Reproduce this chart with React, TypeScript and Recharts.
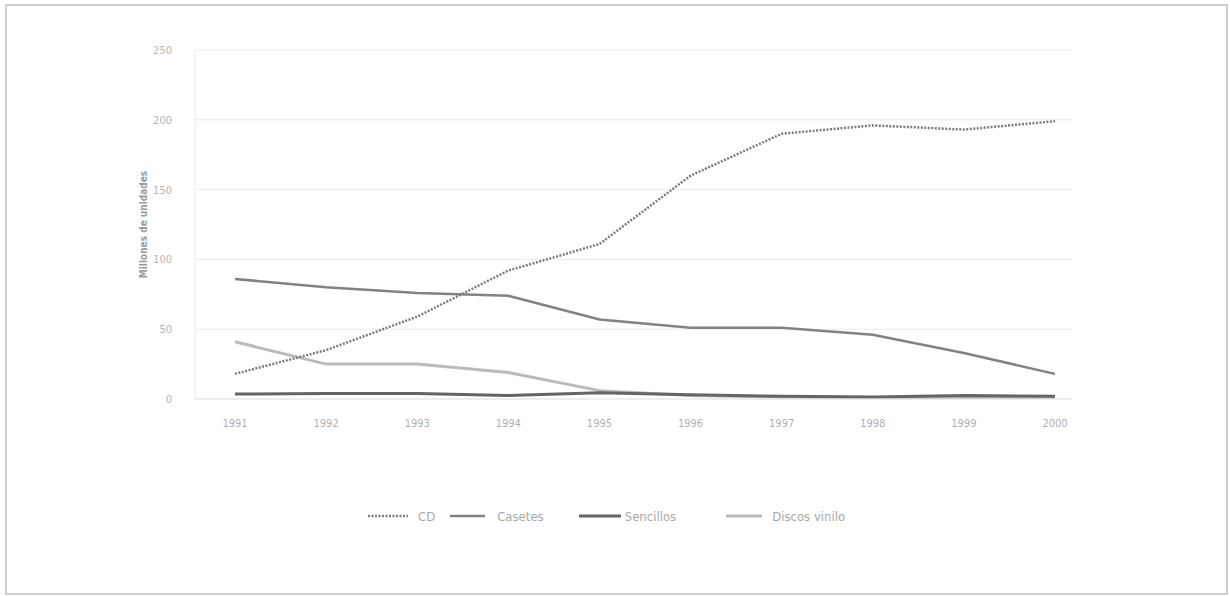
import React from 'react';
import { LineChart, Line, XAxis, YAxis, CartesianGrid } from 'recharts';

const years = ['1991', '1992', '1993', '1994', '1995', '1996', '1997', '1998', '1999', '2000'];
const cd = [18, 35, 59, 92, 111, 160, 190, 196, 193, 199];
const cassettes = [86, 80, 76, 74, 57, 51, 51, 46, 33, 18];
const sencillos = [3.5, 4, 4, 2.5, 4.5, 3, 2, 1.5, 2.5, 2];
const vinilo = [41, 25, 25, 19, 6, 2.5, 1.5, 1, 1, 1];
const yTicks = [0, 50, 100, 150, 200, 250];
const seriesNames = ['CD', 'Casetes', 'Sencillos', 'Discos vinilo'];

const data = years.map((y, i) => ({
  year: y,
  cd: cd[i],
  cassettes: cassettes[i],
  sencillos: sencillos[i],
  vinilo: vinilo[i],
}));

const FONT = "'Liberation Sans Narrow', 'DejaVu Sans Condensed', 'Liberation Sans', sans-serif";

const legendStyles = [
  { color: '#7c7c7c', dash: '2 1.5', width: 2.5, lineW: 40, gap: 10, after: 15 },
  { color: '#828282', dash: undefined, width: 2.5, lineW: 35, gap: 12, after: 35 },
  { color: '#656565', dash: undefined, width: 3, lineW: 42, gap: 4, after: 50 },
  { color: '#bababa', dash: undefined, width: 3, lineW: 36, gap: 10, after: 0 },
];

export default function App() {
  return (
    <div style={{ position: 'absolute', left: 0, top: 0, width: 1230, height: 596, background: '#fff', fontFamily: FONT }}>
      <div style={{ position: 'absolute', left: 5, top: 4, width: 1219, height: 587, border: '2px solid #cfcfcf' }} />
      <div style={{ position: 'absolute', left: 0, top: 0 }}>
        <LineChart width={1230} height={596} data={data} margin={{ top: 50, right: 158, bottom: 167, left: 0 }}>
          <CartesianGrid vertical={false} stroke="#ececec" />
          <XAxis
            dataKey="year"
            padding={{ left: 40, right: 17 }}
            axisLine={{ stroke: '#e6e6e6' }}
            tickLine={false}
            tickMargin={14}
            height={30}
            tick={{ fill: '#b0b0b0', fontSize: 11, fontFamily: FONT }}
          />
          <YAxis
            domain={[0, 250]}
            ticks={yTicks}
            width={195}
            axisLine={{ stroke: '#ececec' }}
            tickLine={false}
            tickMargin={17}
            tick={{ fill: '#b5b5b5', fontSize: 11, fontFamily: FONT }}
            label={{ value: 'Millones de unidades', angle: -90, position: 'center', dx: 46, fill: '#9a9a9a', fontSize: 10, fontWeight: 'bold', fontFamily: FONT }}
          />
          <Line dataKey="vinilo" stroke="#bababa" strokeWidth={3} dot={false} isAnimationActive={false} />
          <Line dataKey="sencillos" stroke="#656565" strokeWidth={3} dot={false} isAnimationActive={false} />
          <Line dataKey="cassettes" stroke="#828282" strokeWidth={2.5} dot={false} isAnimationActive={false} />
          <Line dataKey="cd" stroke="#7c7c7c" strokeWidth={2.5} strokeDasharray="2 1.5" dot={false} isAnimationActive={false} />
        </LineChart>
      </div>
      <div style={{ position: 'absolute', left: 368, top: 506, height: 20, display: 'flex', alignItems: 'center' }}>
        {seriesNames.map((name, i) => {
          const s = legendStyles[i];
          return (
            <div key={name} style={{ display: 'flex', alignItems: 'center', marginRight: s.after }}>
              <svg width={s.lineW} height={6} style={{ marginRight: s.gap }}>
                <line x1={0} y1={3} x2={s.lineW} y2={3} stroke={s.color} strokeWidth={s.width} strokeDasharray={s.dash} />
              </svg>
              <span style={{ color: '#a8a8a8', fontSize: 13 }}>{name}</span>
            </div>
          );
        })}
      </div>
    </div>
  );
}
